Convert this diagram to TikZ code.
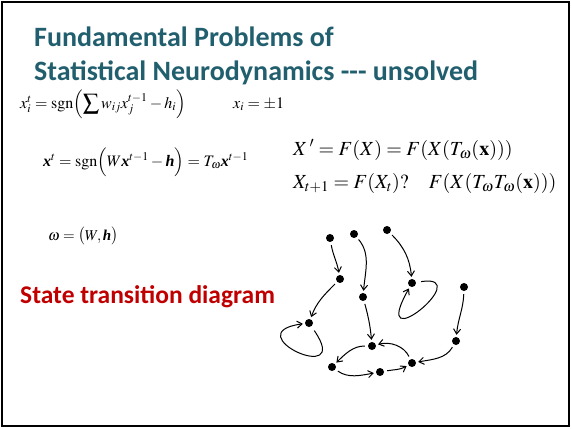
\documentclass[tikz,border=0pt]{standalone}
\usepackage{amsmath}
\usepackage{mathptmx}
\usepackage[no-math]{fontspec}
\setmainfont{Liberation Serif}
\newfontfamily\calib{Carlito}
\usetikzlibrary{arrows.meta}
\definecolor{titleteal}{RGB}{33,95,110}
\definecolor{darkred}{RGB}{192,0,0}
\newcommand\bvec[1]{\text{\bfseries\itshape #1}}
\tikzset{
  dot/.style={circle,fill=black,inner sep=0pt,minimum size=8pt},
  trans/.style={-{Straight Barb[length=5pt,width=7pt]},line width=1pt,shorten >=2pt,shorten <=3pt},
  txt/.style={anchor=base west,inner sep=0pt},
  titlefont/.style={font=\calib\bfseries\fontsize{28}{32}\selectfont,text=titleteal},
  eqsmall/.style={font=\fontsize{16}{19}\selectfont},
  eqbig/.style={font=\fontsize{20}{24}\selectfont},
}
\begin{document}
\begin{tikzpicture}[x=1pt,y=-1pt]
\useasboundingbox (0,0) rectangle (572,428);
\draw[line width=2pt] (2,2) rectangle (569,426);
% title
\node[txt,titlefont] (t1) at (34,46) {Fundamental Problems of};
\node[txt,titlefont] (t2) at (34,80) {Statistical Neurodynamics --- unsolved};
% equations
\node[txt,eqsmall] (e1) at (20,108) {$x_i^t=\operatorname{sgn}\Bigl(\displaystyle\sum w_{ij}x_j^{t-1}-h_i\Bigr)$};
\node[txt,eqsmall] (e1b) at (233,108) {$x_i=\pm1$};
\node[txt,eqsmall] (e2) at (43,166) {$\bvec{x}^t=\operatorname{sgn}\Bigl(W\bvec{x}^{t-1}-\bvec{h}\Bigr)=T_\omega\bvec{x}^{t-1}$};
\node[txt,eqbig] (e3) at (293,155) {$X\,'=F(X)=F(X(T_\omega(\mathbf{x})))$};
\node[txt,eqbig] (e4) at (293,188) {$X_{t+1}=F(X_t)?\quad F(X(T_\omega T_\omega(\mathbf{x})))$};
\node[txt,font=\fontsize{15}{18}\selectfont] (e5) at (48,240) {$\omega=\bigl(W,\bvec{h}\bigr)$};
\node[txt,font=\calib\bfseries\fontsize{25.5}{30}\selectfont,text=darkred] (std) at (20,303) {State transition diagram};
% state transition diagram
\node[dot] (A) at (330,238) {};
\node[dot] (B) at (354,234) {};
\node[dot] (C) at (387,230) {};
\node[dot] (D) at (340,279) {};
\node[dot] (E) at (363,297) {};
\node[dot] (F) at (412,283) {};
\node[dot] (G) at (464,287) {};
\node[dot] (H) at (309,323) {};
\node[dot] (I) at (372,346) {};
\node[dot] (J) at (456,341) {};
\node[dot] (K) at (412,363) {};
\node[dot] (L) at (332,367) {};
\node[dot] (M) at (380,372) {};
\draw[trans] (A) to[out=-80,in=100] (D);
\draw[trans] (B) to[out=-50,in=85] (E);
\draw[trans] (C) to[out=-45,in=95] (F);
\draw[trans,shorten <=5pt] (F) .. controls +(65,-10) and +(-45,80) .. (F);
\draw[trans] (D) to[out=-135,in=70] (H);
\draw[trans,shorten <=5pt] (H) .. controls +(45,65) and +(-75,10) .. (H);
\draw[trans] (E) to[out=-75,in=95] (I);
\draw[trans] (G) to[out=-92,in=85] (J);
\draw[trans] (J) to[out=-120,in=10] (K);
\draw[trans] (K) to[out=115,in=15] (I);
\draw[trans] (I) to[out=180,in=45] (L);
\draw[trans] (L) to[out=-35,in=-170] (M);
\draw[trans] (M) to[out=10,in=-150] (K);
\end{tikzpicture}
\end{document}
